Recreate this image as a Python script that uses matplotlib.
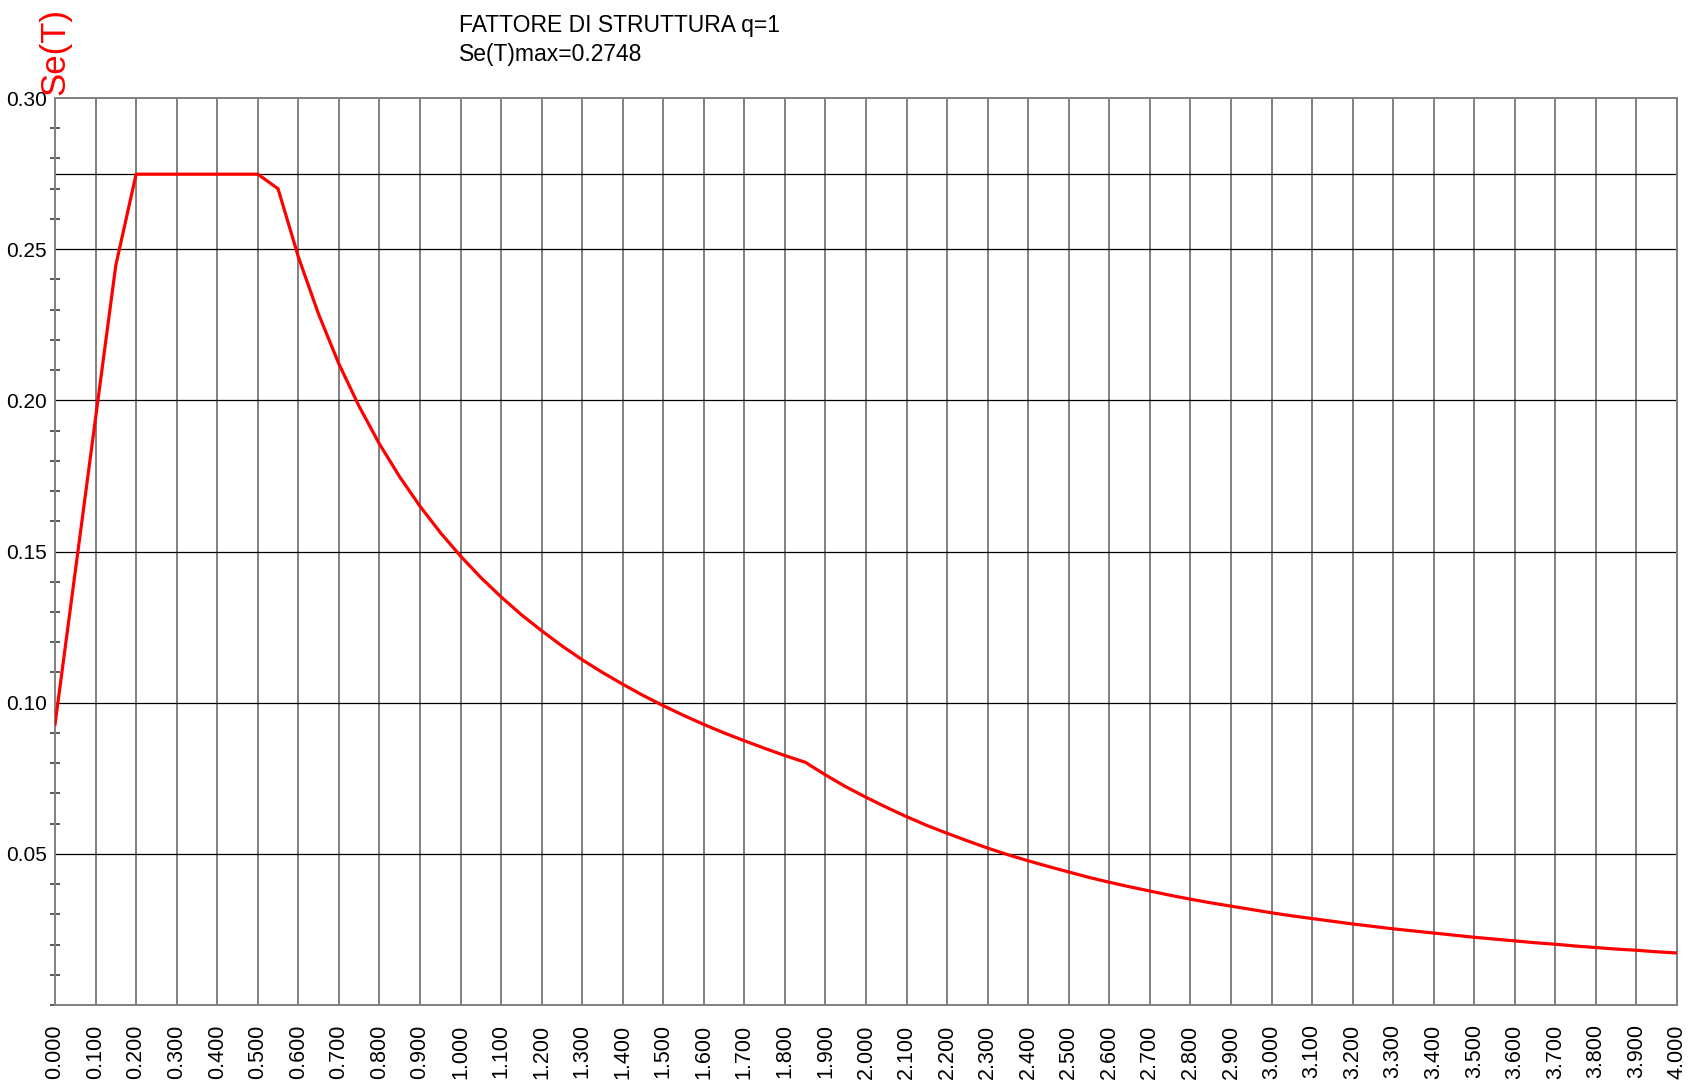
import numpy as np
import matplotlib.pyplot as plt
from matplotlib.ticker import MultipleLocator, FixedLocator

# periodo T [s]
periodi = [0.00, 0.05, 0.10, 0.15, 0.20, 0.25, 0.30, 0.35, 0.40, 0.45,
           0.50, 0.55, 0.60, 0.65, 0.70, 0.75, 0.80, 0.85, 0.90, 0.95,
           1.00, 1.05, 1.10, 1.15, 1.20, 1.25, 1.30, 1.35, 1.40, 1.45,
           1.50, 1.55, 1.60, 1.65, 1.70, 1.75, 1.80, 1.85, 1.90, 1.95,
           2.00, 2.05, 2.10, 2.15, 2.20, 2.25, 2.30, 2.35, 2.40, 2.45,
           2.50, 2.55, 2.60, 2.65, 2.70, 2.75, 2.80, 2.85, 2.90, 2.95,
           3.00, 3.05, 3.10, 3.15, 3.20, 3.25, 3.30, 3.35, 3.40, 3.45,
           3.50, 3.55, 3.60, 3.65, 3.70, 3.75, 3.80, 3.85, 3.90, 3.95,
           4.00]

# spettro elastico Se(T)
se = [0.0928, 0.1434, 0.1941, 0.2447, 0.2748, 0.2748, 0.2748, 0.2748, 0.2748, 0.2748,
      0.2748, 0.2700, 0.2475, 0.2285, 0.2121, 0.1980, 0.1856, 0.1747, 0.1650, 0.1563,
      0.1485, 0.1414, 0.1350, 0.1291, 0.1238, 0.1188, 0.1142, 0.1100, 0.1061, 0.1024,
      0.0990, 0.0958, 0.0928, 0.0900, 0.0874, 0.0849, 0.0825, 0.0803, 0.0761, 0.0722,
      0.0687, 0.0654, 0.0623, 0.0594, 0.0568, 0.0543, 0.0519, 0.0497, 0.0477, 0.0458,
      0.0440, 0.0422, 0.0406, 0.0391, 0.0377, 0.0363, 0.0350, 0.0338, 0.0327, 0.0316,
      0.0305, 0.0295, 0.0286, 0.0277, 0.0268, 0.0260, 0.0252, 0.0245, 0.0238, 0.0231,
      0.0224, 0.0218, 0.0212, 0.0206, 0.0201, 0.0195, 0.0190, 0.0185, 0.0181, 0.0176,
      0.0172]

se_max = 0.2748
q = 1

x_ticks = [i / 10 for i in range(41)]
x_labels = ['%.3f' % v for v in x_ticks]
y_ticks = [0.05, 0.10, 0.15, 0.20, 0.25, 0.30]
y_labels = ['0.05', '0.10', '0.15', '0.20', '0.25', '0.30']

arial = ['Liberation Sans', 'DejaVu Sans']

fig = plt.figure(figsize=(17.07, 10.85), dpi=100)
ax = fig.add_axes([55 / 1707, 80 / 1085, 1622 / 1707, 907 / 1085])

ax.set_xlim(0, 4.0)
ax.set_ylim(0, 0.30)

# griglia
for xv in x_ticks[1:]:
    ax.axvline(xv, color='#808080', lw=1.4, zorder=1)
for yv in y_ticks[:-1]:
    ax.axhline(yv, color='black', lw=0.9, zorder=1)
ax.axhline(se_max, color='black', lw=0.9, zorder=1)

ax.plot(periodi, se, color='#ff0000', lw=2.3, zorder=3)

for s in ax.spines.values():
    s.set_color('#808080')
    s.set_linewidth(1.4)

ax.xaxis.set_major_locator(FixedLocator(x_ticks))
ax.set_xticklabels(x_labels, rotation=90, family=arial, fontsize=15.5)
ax.tick_params(axis='x', length=0, pad=14)

ax.yaxis.set_major_locator(FixedLocator(y_ticks))
ax.set_yticklabels(y_labels, family=arial, fontsize=15)
ax.yaxis.set_minor_locator(MultipleLocator(0.01))
ax.tick_params(axis='y', which='major', length=0, pad=6)
ax.tick_params(axis='y', which='minor', direction='inout', length=7,
               width=1.2, color='#404040')

fig.text(55 / 1707, 1 - 95 / 1085, 'Se(T)', rotation=90, color='#ff0000',
         ha='center', va='bottom', fontsize=25, family=arial)
fig.text(459 / 1707, 1 - 32 / 1085, 'FATTORE DI STRUTTURA q=%d' % q,
         ha='left', va='baseline', fontsize=16.5, family=arial)
fig.text(459 / 1707, 1 - 61 / 1085, 'Se(T)max=%.4f' % se_max,
         ha='left', va='baseline', fontsize=16.5, family=arial)

fig.savefig('out.png', dpi=100)
